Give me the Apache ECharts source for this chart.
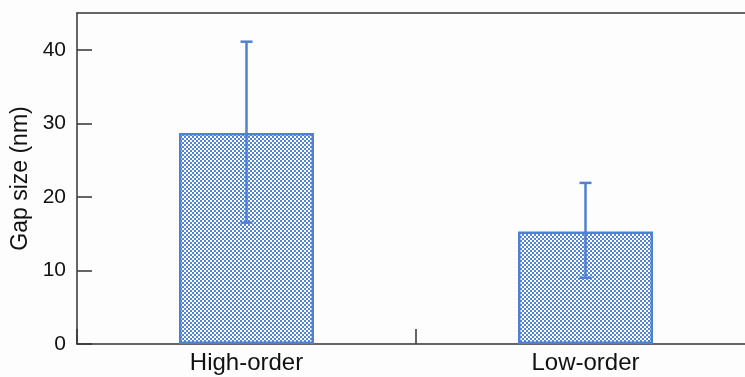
<!DOCTYPE html>
<html><head><meta charset="utf-8">
<script src="https://cdn.jsdelivr.net/npm/echarts@6/dist/echarts.min.js"></script>
<style>html,body{margin:0;padding:0;background:#fdfdfd}#c{width:745px;height:377px}</style>
</head><body><div id="c"></div>
<script>
var categories = ['High-order', 'Low-order'];
var means = [28.7, 15.3];
var errLow = [16.5, 9.0];
var errHigh = [41.1, 21.9];
var yTicks = [0, 10, 20, 30, 40];

function makePattern() {
  var c = document.createElement('canvas');
  c.width = 4; c.height = 4;
  var ctx = c.getContext('2d');
  ctx.fillStyle = '#ffffff';
  ctx.fillRect(0, 0, 4, 4);
  ctx.fillStyle = '#5484d4';
  ctx.fillRect(0, 0, 2, 2);
  ctx.fillRect(2, 2, 2, 2);
  return c;
}

var chart = echarts.init(document.getElementById('c'));
var errData = categories.map(function (c, i) { return [i, errLow[i], errHigh[i]]; });
var font = 'Liberation Sans, Arial, sans-serif';
chart.setOption({
  backgroundColor: '#fdfdfd',
  animation: false,
  grid: { left: 77, right: -10, top: 13, bottom: 33, outerBoundsMode: 'none', containLabel: false },
  xAxis: [{
    type: 'category', data: categories,
    axisLine: { lineStyle: { color: '#333', width: 1.5 } },
    axisTick: { show: true, inside: true, length: 15, lineStyle: { color: '#333', width: 1.5 } },
    axisLabel: { color: '#111', fontSize: 24, fontFamily: font, margin: 7 }
  }, {
    type: 'category', data: categories, position: 'top',
    axisLine: { show: true, lineStyle: { color: '#333', width: 1.5 } },
    axisTick: { show: false }, axisLabel: { show: false }
  }],
  yAxis: [{
    type: 'value', min: 0, max: 45, interval: 10,
    name: 'Gap size (nm)', nameLocation: 'middle', nameGap: 43,
    nameTextStyle: { fontSize: 23, color: '#111', fontFamily: font },
    splitLine: { show: false },
    axisLine: { show: true, lineStyle: { color: '#333', width: 1.5 } },
    axisTick: { show: true, inside: true, length: 15, lineStyle: { color: '#333', width: 1.5 }, customValues: yTicks },
    axisLabel: { color: '#111', fontSize: 21, fontFamily: font, margin: 11, customValues: yTicks }
  }],
  series: [
    {
      type: 'bar', data: means, barWidth: 135,
      itemStyle: { color: { image: makePattern(), repeat: 'repeat' }, borderColor: '#4f81d2', borderWidth: 2.5 }
    },
    {
      type: 'custom', data: errData, z: 10,
      renderItem: function (params, api) {
        var x = api.value(0);
        var lo = api.coord([x, api.value(1)]);
        var hi = api.coord([x, api.value(2)]);
        var cw = 6;
        var st = { stroke: '#4f81d2', lineWidth: 2.5 };
        return {
          type: 'group', children: [
            { type: 'line', shape: { x1: hi[0], y1: hi[1], x2: lo[0], y2: lo[1] }, style: st },
            { type: 'line', shape: { x1: hi[0] - cw, y1: hi[1], x2: hi[0] + cw, y2: hi[1] }, style: st },
            { type: 'line', shape: { x1: lo[0] - cw, y1: lo[1], x2: lo[0] + cw, y2: lo[1] }, style: st }
          ]
        };
      }
    }
  ]
});
</script></body></html>
